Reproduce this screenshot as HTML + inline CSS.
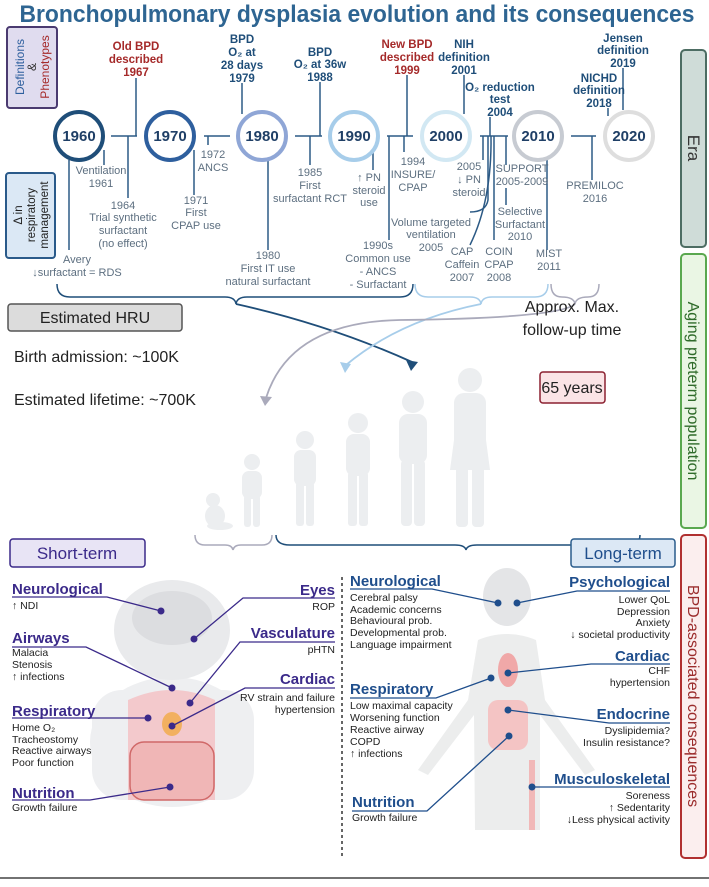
<!DOCTYPE html>
<html><head><meta charset="utf-8"><style>
html,body{margin:0;padding:0;background:#fff;}
svg{display:block;font-family:"Liberation Sans",sans-serif;}
.t{fill:#1f4e79;font-weight:bold;font-size:11.5px;text-anchor:middle}
.r{fill:#a52a2a;font-weight:bold;font-size:11.5px;text-anchor:middle}
.g{fill:#5d6f80;font-size:11px;text-anchor:middle}
.yr{font-weight:bold;font-size:15px;text-anchor:middle;fill:#1f3f66}
.hp{fill:#3b2a8a;font-weight:bold;font-size:15px}
.hb{fill:#1f4e8c;font-weight:bold;font-size:15px}
.b{fill:#222;font-size:10.5px}
.ln{stroke:#2c5a85;stroke-width:1.5;fill:none}
.cp{stroke:#3b2a8a;stroke-width:1.3;fill:none}
.cb{stroke:#1f4e8c;stroke-width:1.3;fill:none}
</style></head><body>
<svg width="709" height="887" viewBox="0 0 709 887">
<text x="357" y="22" text-anchor="middle" font-size="24" font-weight="bold" fill="#2e6592" textLength="675" lengthAdjust="spacingAndGlyphs">Bronchopulmonary dysplasia evolution and its consequences</text>

<rect x="7" y="27" width="50" height="81" rx="3" fill="#e0dcef" stroke="#4a3a70" stroke-width="2"/>
<text transform="translate(24,67) rotate(-90)" text-anchor="middle" font-size="12" fill="#2e5f9e">Definitions</text>
<text transform="translate(36,67) rotate(-90)" text-anchor="middle" font-size="12" fill="#333">&amp;</text>
<text transform="translate(49,67) rotate(-90)" text-anchor="middle" font-size="12" fill="#a52a2a">Phenotypes</text>
<rect x="6" y="173" width="49" height="85" rx="3" fill="#dbe8f5" stroke="#2a5a8a" stroke-width="2"/>
<text transform="translate(22,215) rotate(-90)" text-anchor="middle" font-size="11.5" fill="#222">Δ in</text>
<text transform="translate(35,215) rotate(-90)" text-anchor="middle" font-size="11.5" fill="#222">respiratory</text>
<text transform="translate(48,215) rotate(-90)" text-anchor="middle" font-size="11.5" fill="#222">management</text>

<rect x="681" y="50" width="25" height="197" rx="4" fill="#cfdcd8" stroke="#4d6d63" stroke-width="2"/>
<text transform="translate(688,148) rotate(90)" text-anchor="middle" font-size="17" fill="#333">Era</text>
<rect x="681" y="254" width="25" height="274" rx="4" fill="#eaf6e4" stroke="#5aa84f" stroke-width="2"/>
<text transform="translate(688,391) rotate(90)" text-anchor="middle" font-size="16" fill="#2f6b2a">Aging preterm population</text>
<rect x="681" y="535" width="25" height="323" rx="4" fill="#fbeeee" stroke="#b03030" stroke-width="2"/>
<text transform="translate(688,696) rotate(90)" text-anchor="middle" font-size="16" fill="#9b2c2c">BPD-associated consequences</text>

<g class="ln">
<line x1="111" y1="136" x2="137" y2="136"/><line x1="204" y1="136" x2="230" y2="136"/>
<line x1="295" y1="136" x2="322" y2="136"/><line x1="387" y1="136" x2="413" y2="136"/>
<line x1="480" y1="136" x2="508" y2="136"/><line x1="571" y1="136" x2="596" y2="136"/>
<line x1="136" y1="78" x2="136" y2="136"/><line x1="242" y1="83" x2="242" y2="114"/>
<line x1="320" y1="82" x2="320" y2="136"/><line x1="407" y1="75" x2="407" y2="136"/>
<line x1="464" y1="75" x2="464" y2="114"/><line x1="490" y1="117" x2="490" y2="136"/>
<line x1="608" y1="108" x2="608" y2="116"/><line x1="623" y1="68" x2="623" y2="110"/>
<line x1="128" y1="136" x2="128" y2="198"/><line x1="104" y1="150" x2="104" y2="165"/>
<line x1="69" y1="160" x2="69" y2="250"/><line x1="208" y1="136" x2="208" y2="145"/>
<line x1="194" y1="150" x2="194" y2="195"/><line x1="268" y1="160" x2="268" y2="250"/>
<line x1="310" y1="136" x2="310" y2="165"/><line x1="373" y1="152" x2="373" y2="170"/>
<line x1="404" y1="136" x2="404" y2="152"/><line x1="389" y1="136" x2="389" y2="240"/>
<line x1="483" y1="136" x2="483" y2="160"/><line x1="494" y1="136" x2="494" y2="240"/>
<line x1="506" y1="136" x2="506" y2="165"/><line x1="506" y1="188" x2="506" y2="205"/>
<line x1="547" y1="160" x2="547" y2="250"/><line x1="592" y1="136" x2="592" y2="180"/>
<path d="M488 136 L488 200 Q486 212 470 212"/><path d="M491 136 Q492 200 470 245"/>
</g>
<circle cx="79" cy="136" r="24" fill="#fff" stroke="#1f4e79" stroke-width="4"/>
<circle cx="170" cy="136" r="24" fill="#fff" stroke="#2e5f9e" stroke-width="4"/>
<circle cx="262" cy="136" r="24" fill="#fff" stroke="#8fa6d6" stroke-width="4"/>
<circle cx="354" cy="136" r="24" fill="#fff" stroke="#a7cdea" stroke-width="4"/>
<circle cx="446" cy="136" r="24" fill="#fff" stroke="#d2e8f3" stroke-width="4"/>
<circle cx="538" cy="136" r="24" fill="#fff" stroke="#c7cbd2" stroke-width="4"/>
<circle cx="629" cy="136" r="24" fill="#fff" stroke="#dedede" stroke-width="4"/>
<text class="yr" x="79" y="141">1960</text><text class="yr" x="170" y="141">1970</text>
<text class="yr" x="262" y="141">1980</text><text class="yr" x="354" y="141">1990</text>
<text class="yr" x="446" y="141">2000</text><text class="yr" x="538" y="141">2010</text>
<text class="yr" x="629" y="141">2020</text>

<text class="r" x="136" y="50">Old BPD</text><text class="r" x="136" y="63">described</text><text class="r" x="136" y="76">1967</text>
<text class="t" x="242" y="43">BPD</text><text class="t" x="242" y="56">O₂ at</text><text class="t" x="242" y="69">28 days</text><text class="t" x="242" y="82">1979</text>
<text class="t" x="320" y="56">BPD</text><text class="t" x="320" y="68">O₂ at 36w</text><text class="t" x="320" y="81">1988</text>
<text class="r" x="407" y="48">New BPD</text><text class="r" x="407" y="61">described</text><text class="r" x="407" y="74">1999</text>
<text class="t" x="464" y="48">NIH</text><text class="t" x="464" y="61">definition</text><text class="t" x="464" y="74">2001</text>
<text class="t" x="500" y="91">O₂ reduction</text><text class="t" x="500" y="103">test</text><text class="t" x="500" y="116">2004</text>
<text class="t" x="623" y="42">Jensen</text><text class="t" x="623" y="54">definition</text><text class="t" x="623" y="67">2019</text>
<text class="t" x="599" y="82">NICHD</text><text class="t" x="599" y="94">definition</text><text class="t" x="599" y="107">2018</text>

<text class="g" x="101" y="174">Ventilation</text><text class="g" x="101" y="187">1961</text>
<text class="g" x="123" y="209">1964</text><text class="g" x="123" y="221">Trial synthetic</text><text class="g" x="123" y="234">surfactant</text><text class="g" x="123" y="247">(no effect)</text>
<text class="g" x="77" y="263">Avery</text><text class="g" x="77" y="276">↓surfactant = RDS</text>
<text class="g" x="213" y="158">1972</text><text class="g" x="213" y="171">ANCS</text>
<text class="g" x="196" y="204">1971</text><text class="g" x="196" y="216">First</text><text class="g" x="196" y="229">CPAP use</text>
<text class="g" x="268" y="259">1980</text><text class="g" x="268" y="272">First IT use</text><text class="g" x="268" y="285">natural surfactant</text>
<text class="g" x="310" y="176">1985</text><text class="g" x="310" y="189">First</text><text class="g" x="310" y="202">surfactant RCT</text>
<text class="g" x="369" y="181">↑ PN</text><text class="g" x="369" y="194">steroid</text><text class="g" x="369" y="206">use</text>
<text class="g" x="413" y="165">1994</text><text class="g" x="413" y="178">INSURE/</text><text class="g" x="413" y="191">CPAP</text>
<text class="g" x="378" y="249">1990s</text><text class="g" x="378" y="262">Common use</text><text class="g" x="378" y="275">- ANCS</text><text class="g" x="378" y="288">- Surfactant</text>
<text class="g" x="469" y="170">2005</text><text class="g" x="469" y="183">↓ PN</text><text class="g" x="469" y="196">steroid</text>
<text class="g" x="431" y="226">Volume targeted</text><text class="g" x="431" y="238">ventilation</text><text class="g" x="431" y="251">2005</text>
<text class="g" x="462" y="255">CAP</text><text class="g" x="462" y="268">Caffein</text><text class="g" x="462" y="281">2007</text>
<text class="g" x="499" y="255">COIN</text><text class="g" x="499" y="268">CPAP</text><text class="g" x="499" y="281">2008</text>
<text class="g" x="522" y="172">SUPPORT</text><text class="g" x="522" y="185">2005-2009</text>
<text class="g" x="520" y="215">Selective</text><text class="g" x="520" y="228">Surfactant</text><text class="g" x="520" y="240">2010</text>
<text class="g" x="549" y="257">MIST</text><text class="g" x="549" y="270">2011</text>
<text class="g" x="595" y="189">PREMILOC</text><text class="g" x="595" y="202">2016</text>

<path d="M57 284 Q57 297 70 297 L225 297 Q235 297 236 304 Q237 297 247 297 L400 297 Q413 297 413 284" fill="none" stroke="#1f4e79" stroke-width="1.5"/>
<path d="M415 284 Q415 297 428 297 L470 297 Q480 297 481 304 Q482 297 492 297 L535 297 Q548 297 548 284" fill="none" stroke="#a7cdea" stroke-width="1.5"/>
<path d="M551 284 Q551 297 562 297 Q574 297 575 304 Q576 297 588 297 Q599 297 599 284" fill="none" stroke="#aab" stroke-width="1.5"/>
<path d="M236 304 Q330 325 412 362" fill="none" stroke="#1f4e79" stroke-width="1.8"/>
<polygon points="406,360 418,362 411,371" fill="#1f4e79"/>
<path d="M481 304 Q400 320 346 365" fill="none" stroke="#a7cdea" stroke-width="1.8"/>
<polygon points="340,362 351,364 345,373" fill="#a7cdea"/>
<path d="M575 304 Q560 318 400 320 Q290 322 266 398" fill="none" stroke="#aab" stroke-width="1.8"/>
<polygon points="260,396 272,397 265,406" fill="#aab"/>

<rect x="8" y="304" width="174" height="27" rx="3" fill="#dcdcdc" stroke="#555" stroke-width="1.5"/>
<text x="95" y="323" text-anchor="middle" font-size="16" fill="#222">Estimated HRU</text>
<text x="14" y="362" font-size="16" fill="#222">Birth admission: ~100K</text>
<text x="14" y="405" font-size="16" fill="#222">Estimated lifetime: ~700K</text>
<text x="572" y="312" text-anchor="middle" font-size="16" fill="#222">Approx. Max.</text>
<text x="572" y="335" text-anchor="middle" font-size="16" fill="#222">follow-up time</text>
<rect x="540" y="372" width="65" height="31" rx="3" fill="#fbe4e6" stroke="#8b2030" stroke-width="1.5"/>
<text x="572" y="393" text-anchor="middle" font-size="16" fill="#222">65 years</text>

<g fill="#eceef0">
<circle cx="213" cy="500" r="7"/><ellipse cx="215" cy="516" rx="10" ry="11"/><ellipse cx="220" cy="526" rx="13" ry="4"/>
<circle cx="252" cy="462" r="8"/><rect x="242" y="471" width="20" height="28" rx="7"/><rect x="244" y="495" width="7" height="32" rx="3"/><rect x="253" y="495" width="7" height="32" rx="3"/>
<circle cx="305" cy="440" r="9"/><rect x="294" y="450" width="22" height="36" rx="7"/><rect x="296" y="482" width="8" height="44" rx="3"/><rect x="306" y="482" width="8" height="44" rx="3"/>
<circle cx="358" cy="423" r="10"/><rect x="346" y="434" width="24" height="42" rx="8"/><rect x="348" y="472" width="9" height="54" rx="3"/><rect x="359" y="472" width="9" height="54" rx="3"/>
<circle cx="413" cy="402" r="11"/><rect x="399" y="414" width="28" height="50" rx="9"/><rect x="401" y="460" width="11" height="66" rx="4"/><rect x="414" y="460" width="11" height="66" rx="4"/>
<circle cx="470" cy="380" r="12"/><rect x="454" y="393" width="32" height="58" rx="10"/><path d="M454 440 L486 440 L490 470 L450 470Z"/><rect x="456" y="465" width="12" height="62" rx="4"/><rect x="472" y="465" width="12" height="62" rx="4"/>
</g>
<path d="M195 535 Q195 545 205 545 L225 545 Q232 545 233 550 Q234 545 241 545 L262 545 Q272 545 272 535" fill="none" stroke="#aab" stroke-width="1.5"/>
<path d="M276 535 Q276 545 290 545 L455 545 Q465 545 466 550 Q467 545 477 545 L628 545 Q640 545 640 535" fill="none" stroke="#1f4e79" stroke-width="1.5"/>

<rect x="10" y="539" width="135" height="28" rx="3" fill="#e8e4f5" stroke="#3b2a8a" stroke-width="1.5"/>
<text x="77" y="559" text-anchor="middle" font-size="17" fill="#3b2a8a">Short-term</text>
<rect x="571" y="539" width="104" height="28" rx="3" fill="#dce8f5" stroke="#2a5c8c" stroke-width="1.5"/>
<text x="623" y="559" text-anchor="middle" font-size="17" fill="#1f4e8c">Long-term</text>
<line x1="342" y1="577" x2="342" y2="858" stroke="#333" stroke-width="1.5" stroke-dasharray="3,3"/>
<line x1="0" y1="878" x2="709" y2="878" stroke="#444" stroke-width="1.5"/>

<ellipse cx="172" cy="742" rx="82" ry="65" fill="#eeeff1"/>
<rect x="92" y="690" width="162" height="110" rx="30" fill="#eeeff1"/>
<ellipse cx="172" cy="630" rx="58" ry="50" fill="#e9eaec"/>
<ellipse cx="172" cy="618" rx="40" ry="27" fill="#dcdde0"/>
<path d="M128 700 Q172 680 215 700 L215 800 L128 800Z" fill="#f3c9cc"/>
<rect x="130" y="742" width="84" height="58" rx="14" fill="#f0b6b6" stroke="#d06868" stroke-width="1.5"/>
<ellipse cx="172" cy="724" rx="10" ry="12" fill="#f2b060"/>
<ellipse cx="507" cy="597" rx="24" ry="29" fill="#e4e5e7"/>
<path d="M478 640 Q507 628 536 640 L545 700 L595 770 L585 775 L540 715 L540 830 L475 830 L474 715 L428 775 L418 770 L468 700Z" fill="#eceded"/>
<ellipse cx="508" cy="670" rx="10" ry="17" fill="#f0a8a8"/>
<rect x="488" y="700" width="40" height="50" rx="10" fill="#f4c4c4"/>
<line x1="532" y1="760" x2="532" y2="830" stroke="#f1b8b8" stroke-width="6"/>

<text class="hp" x="12" y="594">Neurological</text><text class="b" x="12" y="609">↑ NDI</text>
<text class="hp" x="12" y="643">Airways</text><text class="b" x="12" y="656">Malacia</text><text class="b" x="12" y="668">Stenosis</text><text class="b" x="12" y="680">↑ infections</text>
<text class="hp" x="12" y="716">Respiratory</text><text class="b" x="12" y="731">Home O₂</text><text class="b" x="12" y="743">Tracheostomy</text><text class="b" x="12" y="754">Reactive airways</text><text class="b" x="12" y="766">Poor function</text>
<text class="hp" x="12" y="798">Nutrition</text><text class="b" x="12" y="811">Growth failure</text>
<text class="hp" x="335" y="595" text-anchor="end">Eyes</text><text class="b" x="335" y="610" text-anchor="end">ROP</text>
<text class="hp" x="335" y="638" text-anchor="end">Vasculature</text><text class="b" x="335" y="653" text-anchor="end">pHTN</text>
<text class="hp" x="335" y="684" text-anchor="end">Cardiac</text><text class="b" x="335" y="701" text-anchor="end">RV strain and failure</text><text class="b" x="335" y="713" text-anchor="end">hypertension</text>
<g class="cp">
<path d="M12 597 L107 597 L161 611"/><path d="M335 598 L243 598 L194 639"/>
<path d="M12 647 L86 647 L172 688"/><path d="M335 642 L240 642 L190 703"/>
<path d="M335 688 L245 688 L172 726"/><path d="M12 718 L148 718"/>
<path d="M12 800 L90 800 L170 787"/>
</g>
<g fill="#3b2a8a"><circle cx="161" cy="611" r="3.5"/><circle cx="194" cy="639" r="3.5"/><circle cx="172" cy="688" r="3.5"/><circle cx="190" cy="703" r="3.5"/><circle cx="172" cy="726" r="3.5"/><circle cx="148" cy="718" r="3.5"/><circle cx="170" cy="787" r="3.5"/></g>

<text class="hb" x="350" y="586">Neurological</text>
<text class="b" x="350" y="601">Cerebral palsy</text><text class="b" x="350" y="613">Academic concerns</text><text class="b" x="350" y="624">Behavioural prob.</text><text class="b" x="350" y="636">Developmental prob.</text><text class="b" x="350" y="648">Language impairment</text>
<text class="hb" x="350" y="694">Respiratory</text>
<text class="b" x="350" y="709">Low maximal capacity</text><text class="b" x="350" y="721">Worsening function</text><text class="b" x="350" y="733">Reactive airway</text><text class="b" x="350" y="745">COPD</text><text class="b" x="350" y="757">↑ infections</text>
<text class="hb" x="352" y="807">Nutrition</text><text class="b" x="352" y="821">Growth failure</text>
<text class="hb" x="670" y="587" text-anchor="end">Psychological</text>
<text class="b" x="670" y="603" text-anchor="end">Lower QoL</text><text class="b" x="670" y="615" text-anchor="end">Depression</text><text class="b" x="670" y="626" text-anchor="end">Anxiety</text><text class="b" x="670" y="638" text-anchor="end">↓ societal  productivity</text>
<text class="hb" x="670" y="661" text-anchor="end">Cardiac</text><text class="b" x="670" y="674" text-anchor="end">CHF</text><text class="b" x="670" y="686" text-anchor="end">hypertension</text>
<text class="hb" x="670" y="719" text-anchor="end">Endocrine</text><text class="b" x="670" y="734" text-anchor="end">Dyslipidemia?</text><text class="b" x="670" y="746" text-anchor="end">Insulin resistance?</text>
<text class="hb" x="670" y="784" text-anchor="end">Musculoskeletal</text><text class="b" x="670" y="799" text-anchor="end">Soreness</text><text class="b" x="670" y="811" text-anchor="end">↑ Sedentarity</text><text class="b" x="670" y="823" text-anchor="end">↓Less physical activity</text>
<g class="cb">
<path d="M350 589 L432 589 L498 603"/><path d="M670 591 L577 591 L517 603"/>
<path d="M670 664 L591 664 L508 673"/><path d="M350 698 L436 698 L491 678"/>
<path d="M670 723 L609 723 L508 710"/><path d="M352 811 L427 811 L509 736"/>
<path d="M670 787 L532 787"/>
</g>
<g fill="#1f4e8c"><circle cx="498" cy="603" r="3.5"/><circle cx="517" cy="603" r="3.5"/><circle cx="508" cy="673" r="3.5"/><circle cx="491" cy="678" r="3.5"/><circle cx="508" cy="710" r="3.5"/><circle cx="509" cy="736" r="3.5"/><circle cx="532" cy="787" r="3.5"/></g>
</svg>
</body></html>
